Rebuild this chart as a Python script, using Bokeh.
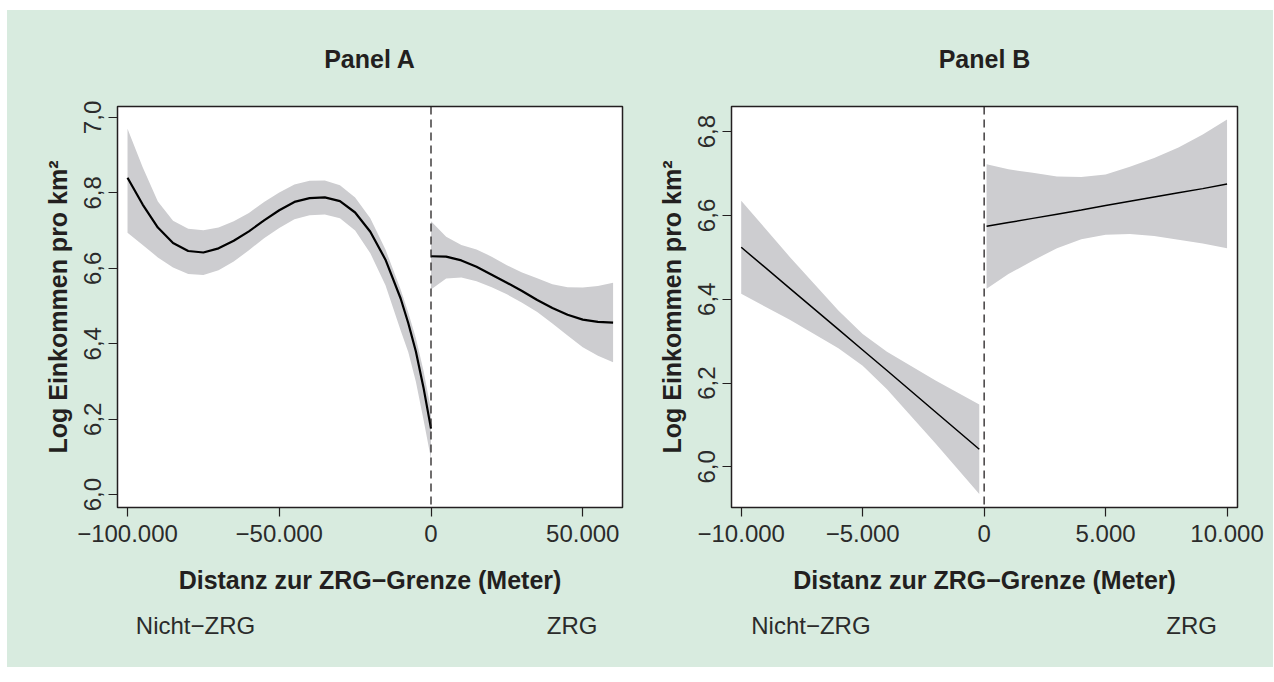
from bokeh.plotting import figure
from bokeh.models import FixedTicker, LinearAxis, Span, Range1d, ColumnDataSource
from bokeh.layouts import row
from bokeh.embed import file_html
from bokeh.resources import INLINE

# ---------------- data ----------------
A_LEFT_X = [-100000, -95000, -90000, -85000, -80000, -75000, -70000, -65000, -60000,
            -55000, -50000, -45000, -40000, -35000, -30000, -25000, -20000, -15000,
            -10000, -7500, -5000, -2500, 0]
A_LEFT_FIT = [6.840, 6.769, 6.708, 6.667, 6.646, 6.642, 6.653, 6.673, 6.698,
              6.727, 6.754, 6.776, 6.786, 6.788, 6.778, 6.748, 6.697, 6.623,
              6.520, 6.455, 6.380, 6.285, 6.175]
A_LEFT_UP = [6.970, 6.868, 6.777, 6.726, 6.705, 6.701, 6.708, 6.725, 6.747,
             6.776, 6.801, 6.822, 6.832, 6.833, 6.820, 6.788, 6.733, 6.650,
             6.544, 6.483, 6.415, 6.330, 6.225]
A_LEFT_LO = [6.694, 6.662, 6.629, 6.602, 6.585, 6.582, 6.595, 6.618, 6.648,
             6.680, 6.707, 6.730, 6.741, 6.743, 6.733, 6.700, 6.640, 6.555,
             6.435, 6.378, 6.300, 6.200, 6.095]

A_RIGHT_X = [0, 5000, 10000, 15000, 20000, 25000, 30000, 35000, 40000, 45000, 50000, 55000, 60000]
A_RIGHT_FIT = [6.632, 6.631, 6.621, 6.604, 6.583, 6.562, 6.540, 6.516, 6.495, 6.477, 6.464, 6.458, 6.456]
A_RIGHT_UP = [6.725, 6.684, 6.662, 6.650, 6.631, 6.608, 6.589, 6.574, 6.558, 6.550, 6.549, 6.553, 6.562]
A_RIGHT_LO = [6.544, 6.573, 6.576, 6.566, 6.550, 6.531, 6.509, 6.484, 6.454, 6.422, 6.391, 6.368, 6.351]

B_LEFT_X = [-10000, -8000, -6000, -5000, -4000, -2000, -200]
B_LEFT_FIT = [6.524, 6.426, 6.328, 6.279, 6.230, 6.131, 6.042]
B_LEFT_UP = [6.635, 6.501, 6.373, 6.317, 6.275, 6.206, 6.149]
B_LEFT_LO = [6.413, 6.351, 6.283, 6.241, 6.185, 6.056, 5.935]

B_RIGHT_X = [100, 1000, 2000, 3000, 4000, 5000, 6000, 7000, 8000, 9000, 10000]
B_RIGHT_FIT = [6.574, 6.583, 6.593, 6.603, 6.613, 6.624, 6.634, 6.644, 6.654, 6.664, 6.675]
B_RIGHT_UP = [6.722, 6.710, 6.702, 6.693, 6.692, 6.698, 6.716, 6.737, 6.762, 6.793, 6.829]
B_RIGHT_LO = [6.425, 6.460, 6.492, 6.522, 6.543, 6.554, 6.556, 6.551, 6.542, 6.533, 6.522]

A_XTICKS = [-100000, -50000, 0, 50000]
A_XTICK_LABELS = ["\u2212100.000", "\u221250.000", "0", "50.000"]
A_YTICKS = [6.0, 6.2, 6.4, 6.6, 6.8, 7.0]
A_YTICK_LABELS = ["6,0", "6,2", "6,4", "6,6", "6,8", "7,0"]
B_XTICKS = [-10000, -5000, 0, 5000, 10000]
B_XTICK_LABELS = ["\u221210.000", "\u22125.000", "0", "5.000", "10.000"]
B_YTICKS = [6.0, 6.2, 6.4, 6.6, 6.8]
B_YTICK_LABELS = ["6,0", "6,2", "6,4", "6,6", "6,8"]

SIDE_LABELS = ["Nicht\u2212ZRG", "ZRG"]
TITLES = ["Panel A", "Panel B"]
X_LABEL = "Distanz zur ZRG\u2212Grenze (Meter)"
Y_LABEL = "Log Einkommen pro km\u00b2"

# ---------------- styling / layout ----------------
GREEN = "#d8ebdf"
BAND = "#cdcdd0"
INK = "#231f20"
FONT = "Liberation Sans"

A_SIDE_POS = [-77600, 46500]
B_SIDE_POS = [-7130, 8540]


def make_panel(title, xr, yr, xticks, xlabels, yticks, ylabels, segments,
               side_pos, lb, rb, lw):
    p = figure(width=633, height=657, x_range=Range1d(*xr), y_range=Range1d(*yr),
               output_backend="svg", toolbar_location=None,
               min_border_left=lb, min_border_right=rb,
               min_border_top=95, min_border_bottom=160,
               background_fill_color="white", border_fill_color=GREEN,
               outline_line_color=INK, outline_line_width=1.5)
    p.grid.visible = False

    p.title.text = title
    p.title.align = "center"
    p.title.vertical_align = "middle"
    p.title.text_font = FONT
    p.title.text_font_size = "25px"
    p.title.text_font_style = "bold"
    p.title.text_color = INK
    p.title.standoff = 66

    for xs, fit, up, lo in segments:
        src = ColumnDataSource(dict(x=xs, fit=fit, up=up, lo=lo))
        p.varea(x="x", y1="lo", y2="up", source=src, fill_color=BAND)
        p.line(x="x", y="fit", source=src, line_color="black", line_width=lw)

    p.add_layout(Span(location=0, dimension="height", line_color=INK,
                      line_dash="8 5", line_width=1.3))

    xa = p.xaxis[0]
    xa.ticker = FixedTicker(ticks=xticks)
    xa.major_label_overrides = {t: l for t, l in zip(xticks, xlabels)}
    ya = p.yaxis[0]
    ya.ticker = FixedTicker(ticks=yticks)
    ya.major_label_overrides = {t: l for t, l in zip(yticks, ylabels)}
    ya.major_label_orientation = "vertical"
    for ax in (xa, ya):
        ax.axis_line_color = None
        ax.major_tick_out = 9
        ax.major_tick_in = 0
        ax.major_tick_line_color = INK
        ax.major_tick_line_width = 1.2
        ax.minor_tick_line_color = None
        ax.major_label_text_font = FONT
        ax.major_label_text_font_size = "24px"
        ax.major_label_text_color = "#2b2b2b"
        ax.axis_label_text_font = FONT
        ax.axis_label_text_font_size = "25px"
        ax.axis_label_text_font_style = "bold"
        ax.axis_label_text_color = INK
    xa.axis_label = X_LABEL
    ya.axis_label = Y_LABEL
    xa.major_label_standoff = 8
    xa.axis_label_standoff = 21
    ya.major_label_standoff = 7
    ya.axis_label_standoff = 10

    side = LinearAxis(ticker=FixedTicker(ticks=side_pos),
                      major_label_overrides={t: l for t, l in zip(side_pos, SIDE_LABELS)},
                      axis_line_color=None, major_tick_line_color=None,
                      minor_tick_line_color=None, major_label_standoff=9,
                      major_label_text_font=FONT, major_label_text_font_size="24px",
                      major_label_text_color="#2b2b2b")
    p.add_layout(side, "below")
    return p


pA = make_panel(TITLES[0], (-103300, 63100), (5.966, 7.029),
                A_XTICKS, A_XTICK_LABELS, A_YTICKS, A_YTICK_LABELS,
                [(A_LEFT_X, A_LEFT_FIT, A_LEFT_UP, A_LEFT_LO),
                 (A_RIGHT_X, A_RIGHT_FIT, A_RIGHT_UP, A_RIGHT_LO)],
                A_SIDE_POS, 110, 18, 2.2)
pB = make_panel(TITLES[1], (-10400, 10430), (5.903, 6.860),
                B_XTICKS, B_XTICK_LABELS, B_YTICKS, B_YTICK_LABELS,
                [(B_LEFT_X, B_LEFT_FIT, B_LEFT_UP, B_LEFT_LO),
                 (B_RIGHT_X, B_RIGHT_FIT, B_RIGHT_UP, B_RIGHT_LO)],
                B_SIDE_POS, 91, 36, 1.5)

layout = row(pA, pB, spacing=0, margin=(10, 0, 0, 7),
             styles={"background-color": GREEN})
open("out.html", "w").write(file_html(layout, INLINE))
